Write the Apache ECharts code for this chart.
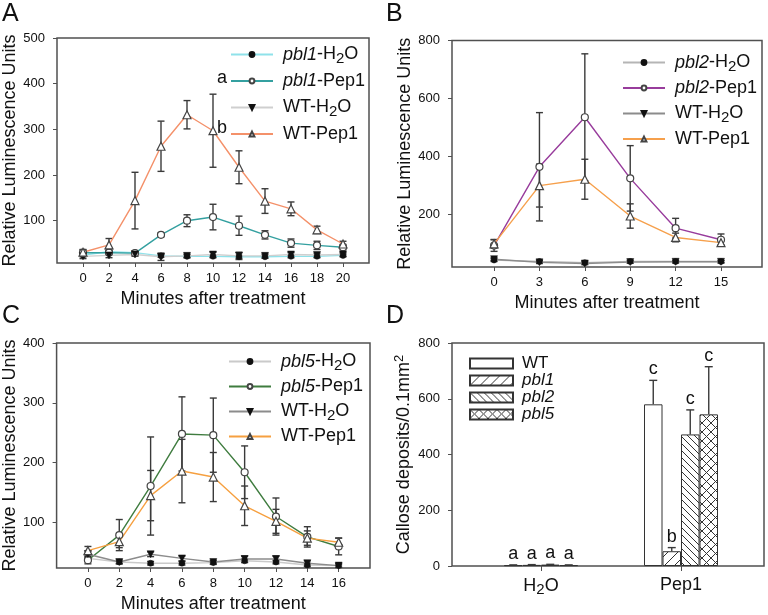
<!DOCTYPE html>
<html><head><meta charset="utf-8">
<script src="https://cdn.jsdelivr.net/npm/echarts@6/dist/echarts.min.js"></script>
<style>html,body{margin:0;padding:0;background:#fff}#c{width:768px;height:615px}</style>
</head><body><div id="c"></div>
<script>
// ---------- Panel A data ----------
const aMinutes = [0, 2, 4, 6, 8, 10, 12, 14, 16, 18, 20];
const aPbl1H2O = [25, 32, 30, 23, 22, 22, 21, 21, 22, 22, 24];
const aPbl1H2OErr = [4, 4, 4, 3, 3, 3, 3, 3, 3, 3, 3];
const aPbl1Pep1 = [30, 30, 29, 69, 100, 108, 89, 69, 51, 46, 42];
const aPbl1Pep1Err = [6, 5, 5, 4, 13, 28, 21, 9, 9, 9, 6];
const aWTH2O = [22, 24, 26, 21, 23, 26, 23, 23, 26, 25, 26];
const aWTH2OErr = [5, 5, 4, 8, 4, 5, 8, 4, 4, 4, 4];
const aWTPep1 = [31, 47, 144, 263, 332, 297, 217, 143, 126, 80, 49];
const aWTPep1Err = [6, 14, 62, 55, 31, 80, 36, 27, 15, 8, 6];
// ---------- Panel B data ----------
const bMinutes = [0, 3, 6, 9, 12, 15];
const bPbl2H2O = [42, 37, 33, 37, 37, 37];
const bPbl2H2OErr = [5, 4, 4, 4, 4, 4];
const bPbl2Pep1 = [92, 364, 535, 324, 152, 112];
const bPbl2Pep1Err = [20, 187, 219, 113, 34, 20];
const bWTH2O = [45, 34, 30, 35, 36, 36];
const bWTH2OErr = [5, 4, 4, 4, 4, 4];
const bWTPep1 = [98, 299, 321, 194, 120, 102];
const bWTPep1Err = [15, 74, 69, 42, 15, 8];
// ---------- Panel C data ----------
const cMinutes = [0, 2, 4, 6, 8, 10, 12, 14, 16];
const cPbl5H2O = [40, 34, 32, 32, 33, 36, 34, 29, 28];
const cPbl5H2OErr = [4, 3, 3, 3, 3, 3, 3, 3, 3];
const cPbl5Pep1 = [37, 79, 161, 248, 246, 184, 110, 76, 60];
const cPbl5Pep1Err = [6, 26, 82, 62, 62, 44, 31, 17, 14];
const cWTH2O = [47, 34, 47, 40, 34, 39, 39, 32, 28];
const cWTH2OErr = [6, 3, 4, 4, 3, 5, 5, 4, 3];
const cWTPep1 = [53, 68, 145, 186, 176, 128, 102, 74, 67];
const cWTPep1Err = [7, 10, 42, 53, 41, 33, 20, 12, 7];
// ---------- Panel D data ----------
const dGroups = ['H2O', 'Pep1'];
const dGenotypes = ['WT', 'pbl1', 'pbl2', 'pbl5'];
const dWT = [3, 580];
const dWTErr = [1, 86];
const dPbl1 = [4, 53];
const dPbl1Err = [1, 13];
const dPbl2 = [5, 472];
const dPbl2Err = [1, 88];
const dPbl5 = [3, 544];
const dPbl5Err = [1, 171];
const dLetters = [['a', 'c'], ['a', 'b'], ['a', 'c'], ['a', 'c']];
const dYTicks = [0, 200, 400, 600, 800];

const FONT = "'Liberation Sans', Arial, sans-serif";
const AX = '#505050';
const ERR = '#3a3a3a';

const rich = {
  i: { fontStyle: 'italic', fontSize: 18, fontFamily: FONT, lineHeight: 20 },
  sub: { fontSize: 15, fontFamily: FONT, padding: [8, 0, 0, 0], lineHeight: 20 }
};
const legendLabels = {
  'A pbl1-H2O': '{i|pbl1}-H{sub|2}O', 'A pbl1-Pep1': '{i|pbl1}-Pep1', 'A WT-H2O': 'WT-H{sub|2}O', 'A WT-Pep1': 'WT-Pep1',
  'B pbl2-H2O': '{i|pbl2}-H{sub|2}O', 'B pbl2-Pep1': '{i|pbl2}-Pep1', 'B WT-H2O': 'WT-H{sub|2}O', 'B WT-Pep1': 'WT-Pep1',
  'C pbl5-H2O': '{i|pbl5}-H{sub|2}O', 'C pbl5-Pep1': '{i|pbl5}-Pep1', 'C WT-H2O': 'WT-H{sub|2}O', 'C WT-Pep1': 'WT-Pep1'
};

function pattern(kind) {
  const s = kind === 'slash' ? 10 : kind === 'back' ? 7 : 9;
  const cv = document.createElement('canvas');
  cv.width = s; cv.height = s;
  const g = cv.getContext('2d');
  g.fillStyle = '#fff'; g.fillRect(0, 0, s, s);
  g.strokeStyle = '#333'; g.lineWidth = 1;
  const fw = () => { g.beginPath(); g.moveTo(-1, s + 1); g.lineTo(s + 1, -1); g.moveTo(-1, 1); g.lineTo(1, -1); g.moveTo(s - 1, s + 1); g.lineTo(s + 1, s - 1); g.stroke(); };
  const bw = () => { g.beginPath(); g.moveTo(-1, -1); g.lineTo(s + 1, s + 1); g.moveTo(s - 1, -1); g.lineTo(s + 1, 1); g.moveTo(-1, s - 1); g.lineTo(1, s + 1); g.stroke(); };
  if (kind === 'slash') fw();
  else if (kind === 'back') bw();
  else { fw(); bw(); }
  return { image: cv, repeat: 'repeat' };
}

function lineSeries(name, gi, xs, ys, lineColor, marker) {
  const m = {
    dot: { symbol: 'circle', symbolSize: 6, itemStyle: { color: '#111', borderColor: '#111', borderWidth: 0.5 } },
    open: { symbol: 'circle', symbolSize: 7, itemStyle: { color: '#fff', borderColor: '#444', borderWidth: 1.2 } },
    down: { symbol: 'triangle', symbolRotate: 180, symbolSize: 7, itemStyle: { color: '#111', borderColor: '#111', borderWidth: 0.5 } },
    up: { symbol: 'triangle', symbolSize: 8, itemStyle: { color: '#fff', borderColor: '#444', borderWidth: 1.2 } }
  }[marker];
  return Object.assign({
    type: 'line', name: name, xAxisIndex: gi, yAxisIndex: gi, z: 3,
    data: xs.map((x, i) => [x, ys[i]]),
    showAllSymbol: true, animation: false,
    lineStyle: { color: lineColor, width: 1.4 }
  }, m);
}

function errSeries(gi, xs, ys, es) {
  return {
    type: 'custom', xAxisIndex: gi, yAxisIndex: gi, z: 2, silent: true, animation: false,
    data: xs.map((x, i) => [x, ys[i], es[i]]),
    renderItem: function (params, api) {
      const x = api.value(0), y = api.value(1), e = api.value(2);
      const t = api.coord([x, y + e]), b = api.coord([x, y - e]);
      const hw = 3.5, st = { stroke: ERR, lineWidth: 1.4 };
      return { type: 'group', children: [
        { type: 'line', shape: { x1: t[0], y1: t[1], x2: b[0], y2: b[1] }, style: st },
        { type: 'line', shape: { x1: t[0] - hw, y1: t[1], x2: t[0] + hw, y2: t[1] }, style: st },
        { type: 'line', shape: { x1: b[0] - hw, y1: b[1], x2: b[0] + hw, y2: b[1] }, style: st }
      ] };
    }
  };
}

function xAxisLine(gi, min, max, labels, extra) {
  return Object.assign({
    gridIndex: gi, type: 'value', min: min, max: max,
    axisLine: { show: false, onZero: false }, splitLine: { show: false },
    axisTick: { show: true, length: 4, lineStyle: { color: AX } },
    axisLabel: { color: '#111', fontSize: 13, fontFamily: FONT, margin: 9,
      showMinLabel: false, showMaxLabel: false,
      formatter: v => labels.includes(v) ? String(v) : '' },
    name: 'Minutes after treatment', nameLocation: 'middle', nameGap: 27,
    nameTextStyle: { fontSize: 18, fontFamily: FONT, color: '#111' }
  }, extra || {});
}
function yAxisLine(gi, min, max, split) {
  return {
    gridIndex: gi, type: 'value', min: min, max: max, splitNumber: split,
    axisLine: { show: false, onZero: false }, splitLine: { show: false },
    axisTick: { show: true, length: 4, lineStyle: { color: AX } },
    axisLabel: { color: '#111', fontSize: 13, fontFamily: FONT, margin: 12, showMinLabel: false },
    name: 'Relative Luminescence Units', nameLocation: 'middle', nameGap: 36,
    nameTextStyle: { fontSize: 18, fontFamily: FONT, color: '#111' }
  };
}
function lineLegend(names, left, top, gap) {
  return {
    data: names, orient: 'vertical', left: left, top: top, padding: 0,
    itemWidth: 42, itemHeight: 6, itemGap: gap, selectedMode: false,
    formatter: n => legendLabels[n],
    textStyle: { fontSize: 18, fontFamily: FONT, color: '#111', lineHeight: 20, padding: [0, 0, 0, 5], rich: rich }
  };
}

const barW = 18.5;
const dVals = [dWT, dPbl1, dPbl2, dPbl5];
const dErrs = [dWTErr, dPbl1Err, dPbl2Err, dPbl5Err];
const dFills = ['#fff', pattern('slash'), pattern('back'), pattern('cross')];

function dErrSeries(k) {
  return {
    type: 'custom', xAxisIndex: 3, yAxisIndex: 3, z: 4, silent: true, animation: false,
    data: dGroups.map((g, i) => [i, dVals[k][i], dErrs[k][i]]),
    renderItem: function (params, api) {
      const ci = api.value(0), v = api.value(1), e = api.value(2);
      const off = (k - 1.5) * barW;
      const b = api.coord([ci, v]), t = api.coord([ci, v + e]);
      const x = b[0] + off, st = { stroke: ERR, lineWidth: 1.4 };
      return { type: 'group', children: [
        { type: 'line', shape: { x1: x, y1: b[1], x2: x, y2: t[1] }, style: st },
        { type: 'line', shape: { x1: x - 4, y1: t[1], x2: x + 4, y2: t[1] }, style: st },
        { type: 'text', x: x, y: t[1] - 2, style: { text: dLetters[k][params.dataIndex], fontSize: 18, fontFamily: FONT, fill: '#111', align: 'center', verticalAlign: 'bottom' } }
      ] };
    }
  };
}

const series = [
  errSeries(0, aMinutes, aPbl1H2O, aPbl1H2OErr),
  errSeries(0, aMinutes, aPbl1Pep1, aPbl1Pep1Err),
  errSeries(0, aMinutes, aWTH2O, aWTH2OErr),
  errSeries(0, aMinutes, aWTPep1, aWTPep1Err),
  lineSeries('A pbl1-H2O', 0, aMinutes, aPbl1H2O, '#8fe2ea', 'dot'),
  lineSeries('A pbl1-Pep1', 0, aMinutes, aPbl1Pep1, '#34a0a0', 'open'),
  lineSeries('A WT-H2O', 0, aMinutes, aWTH2O, '#cfcfcf', 'down'),
  lineSeries('A WT-Pep1', 0, aMinutes, aWTPep1, '#f4916a', 'up'),

  errSeries(1, bMinutes, bPbl2H2O, bPbl2H2OErr),
  errSeries(1, bMinutes, bPbl2Pep1, bPbl2Pep1Err),
  errSeries(1, bMinutes, bWTH2O, bWTH2OErr),
  errSeries(1, bMinutes, bWTPep1, bWTPep1Err),
  lineSeries('B pbl2-H2O', 1, bMinutes, bPbl2H2O, '#b5b5b5', 'dot'),
  lineSeries('B pbl2-Pep1', 1, bMinutes, bPbl2Pep1, '#983c9c', 'open'),
  lineSeries('B WT-H2O', 1, bMinutes, bWTH2O, '#8c8c8c', 'down'),
  lineSeries('B WT-Pep1', 1, bMinutes, bWTPep1, '#f6a04c', 'up'),

  errSeries(2, cMinutes, cPbl5H2O, cPbl5H2OErr),
  errSeries(2, cMinutes, cPbl5Pep1, cPbl5Pep1Err),
  errSeries(2, cMinutes, cWTH2O, cWTH2OErr),
  errSeries(2, cMinutes, cWTPep1, cWTPep1Err),
  lineSeries('C pbl5-H2O', 2, cMinutes, cPbl5H2O, '#cacaca', 'dot'),
  lineSeries('C pbl5-Pep1', 2, cMinutes, cPbl5Pep1, '#3f7c3f', 'open'),
  lineSeries('C WT-H2O', 2, cMinutes, cWTH2O, '#8c8c8c', 'down'),
  lineSeries('C WT-Pep1', 2, cMinutes, cWTPep1, '#f6a040', 'up')
];
dGenotypes.forEach((g, k) => {
  series.push({
    type: 'bar', name: g, xAxisIndex: 3, yAxisIndex: 3, barWidth: barW, barGap: '0%', z: 3, animation: false,
    data: dVals[k],
    itemStyle: { color: dFills[k], borderColor: '#333', borderWidth: 1 }
  });
});
dGenotypes.forEach((g, k) => series.push(dErrSeries(k)));

const gridStyle = { show: true, borderColor: AX, borderWidth: 1.5, backgroundColor: 'transparent' };
const option = {
  animation: false,
  textStyle: { fontFamily: FONT },
  grid: [
    Object.assign({ left: 57, top: 38, width: 312, height: 225 }, gridStyle),
    Object.assign({ left: 452, top: 40.5, width: 310, height: 226.5 }, gridStyle),
    Object.assign({ left: 56, top: 343, width: 314, height: 225 }, gridStyle),
    { left: 471, top: 343, width: 280, height: 223, show: false },
    Object.assign({ left: 452, top: 343, width: 312, height: 223 }, gridStyle)
  ],
  xAxis: [
    xAxisLine(0, -2, 22, aMinutes, { interval: 2 }),
    xAxisLine(1, -2.78, 17.71, bMinutes, { splitNumber: 7 }),
    xAxisLine(2, -2, 18, cMinutes, { interval: 2 }),
    { gridIndex: 3, type: 'category', data: dGroups, boundaryGap: true,
      axisLine: { show: false, onZero: false }, splitLine: { show: false },
      axisTick: { show: true, alignWithLabel: true, length: 5, lineStyle: { color: AX } },
      axisLabel: { color: '#111', fontSize: 18, fontFamily: FONT, margin: 10,
        formatter: v => v === 'H2O' ? 'H{sub|2}O' : v, rich: { sub: { fontSize: 15, fontFamily: FONT, padding: [8, 0, 0, 0], lineHeight: 20 } } } },
    { gridIndex: 4, type: 'value', min: 0, max: 1, show: false }
  ],
  yAxis: [
    yAxisLine(0, 7.4, 500, 5),
    yAxisLine(1, 18, 800, 4),
    yAxisLine(2, 24, 400, 4),
    { gridIndex: 3, type: 'value', min: 0, max: 800, show: false },
    { gridIndex: 4, type: 'value', min: 0, max: 800, interval: 200,
      axisLine: { show: false, onZero: false }, splitLine: { show: false },
      axisTick: { show: true, length: 4, lineStyle: { color: AX } },
      axisLabel: { color: '#111', fontSize: 13, fontFamily: FONT, margin: 12, formatter: v => dYTicks.includes(v) ? String(v) : '' },
      name: 'Callose deposits/0.1mm{sup|2}', nameLocation: 'middle', nameGap: 34,
      nameTextStyle: { fontSize: 18, fontFamily: FONT, color: '#111',
        rich: { sup: { fontSize: 13, fontFamily: FONT, padding: [0, 0, 8, 0], lineHeight: 20 } } } }
  ],
  legend: [
    lineLegend(['A pbl1-H2O', 'A pbl1-Pep1', 'A WT-H2O', 'A WT-Pep1'], 230, 43, 5),
    lineLegend(['B pbl2-H2O', 'B pbl2-Pep1', 'B WT-H2O', 'B WT-Pep1'], 622, 51, 4),
    lineLegend(['C pbl5-H2O', 'C pbl5-Pep1', 'C WT-H2O', 'C WT-Pep1'], 228, 350, 3.5),
    { data: dGenotypes, orient: 'vertical', left: 469, top: 355, padding: 0, icon: 'rect',
      itemWidth: 43, itemHeight: 10, itemGap: 0, selectedMode: false,
      formatter: n => n === 'WT' ? 'WT' : '{i|' + n + '}',
      textStyle: { fontSize: 17, fontFamily: FONT, color: '#111', lineHeight: 17, padding: [0, 0, 0, 4],
        rich: { i: { fontStyle: 'italic', fontSize: 17, fontFamily: FONT, lineHeight: 17 } } } }
  ],
  graphic: [
    { type: 'text', left: 2, top: 2, style: { text: 'A', fontSize: 25, fontFamily: FONT, fill: '#111' } },
    { type: 'text', left: 386, top: 2, style: { text: 'B', fontSize: 25, fontFamily: FONT, fill: '#111' } },
    { type: 'text', left: 2, top: 304, style: { text: 'C', fontSize: 25, fontFamily: FONT, fill: '#111' } },
    { type: 'text', left: 386, top: 304, style: { text: 'D', fontSize: 25, fontFamily: FONT, fill: '#111' } },
    { type: 'text', left: 217, top: 69, style: { text: 'a', fontSize: 18, fontFamily: FONT, fill: '#111' } },
    { type: 'text', left: 217, top: 119, style: { text: 'b', fontSize: 18, fontFamily: FONT, fill: '#111' } }
  ],
  series: series
};
const chart = echarts.init(document.getElementById('c'), null, { renderer: 'canvas' });
chart.setOption(option);
</script>
</body></html>
